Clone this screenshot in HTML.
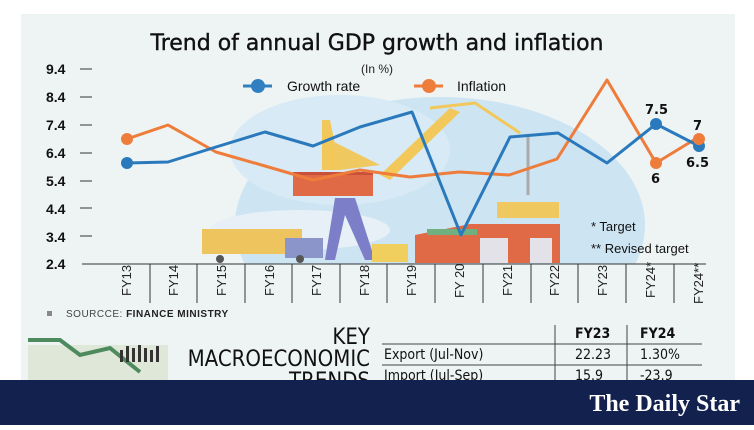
<!DOCTYPE html><html><head><meta charset="utf-8"><style>
body{margin:0;width:754px;height:425px;overflow:hidden;background:#fff;font-family:"Liberation Sans",sans-serif}
</style></head><body>
<svg width="754" height="425" viewBox="0 0 754 425" xmlns="http://www.w3.org/2000/svg" font-family="Liberation Sans, sans-serif">
<defs><clipPath id="c"><rect x="0" y="0" width="754" height="264"/></clipPath></defs>
<rect x="21" y="14" width="714" height="370" fill="#eef4f4"/>
<!-- globe -->
<g clip-path="url(#c)">
<ellipse cx="440" cy="225" rx="205" ry="128" fill="#cde4f2"/>
<ellipse cx="340" cy="150" rx="110" ry="55" fill="#d7eaf5"/>
<ellipse cx="300" cy="230" rx="90" ry="20" fill="#e6f0f6"/>
</g>
<!-- crane -->
<polygon points="322,120 330,120 340,170 322,170" fill="#f2c85a"/>
<polygon points="330,140 380,165 340,170" fill="#f0c860"/>
<polygon points="380,175 450,108 460,112 390,180" fill="#f2c85a"/>
<polyline points="430,108 475,103 520,133" fill="none" stroke="#f2c85a" stroke-width="3"/>
<rect x="293" y="174" width="80" height="22" fill="#e06a45"/>
<rect x="293" y="172" width="80" height="3" fill="#c9503a"/>
<polygon points="335,198 355,198 375,260 365,260 345,215 335,260 325,260" fill="#7c7ec8"/>
<rect x="497" y="202" width="62" height="16" fill="#f0c860"/>
<line x1="528" y1="135" x2="528" y2="195" stroke="#aaa" stroke-width="3"/>
<!-- truck -->
<rect x="202" y="229" width="100" height="25" fill="#edc45e"/>
<rect x="285" y="238" width="38" height="20" fill="#8b95c9"/>
<circle cx="220" cy="259" r="4" fill="#555"/><circle cx="300" cy="259" r="4" fill="#555"/>
<rect x="372" y="244" width="36" height="18" fill="#f0cf5e"/>
<!-- warehouse -->
<polygon points="415,235 470,224 560,224 560,263 415,263" fill="#e06a45"/>
<rect x="427" y="229" width="50" height="6" fill="#70b080"/>
<rect x="480" y="238" width="28" height="25" fill="#e2e2e8"/>
<rect x="530" y="238" width="22" height="25" fill="#e2e2e8"/>
<text x="377" y="50" font-size="22" text-anchor="middle" fill="#111" stroke="#111" stroke-width="0.4" font-family="DejaVu Sans, sans-serif">Trend of annual GDP growth and inflation</text>
<text x="377" y="73" font-size="12" text-anchor="middle" fill="#222">(In %)</text>
<line x1="243" y1="86" x2="272" y2="86" stroke="#2f7fc1" stroke-width="3"/><circle cx="258" cy="86" r="7" fill="#2f7fc1"/>
<text x="287" y="91" font-size="14" fill="#111">Growth rate</text>
<line x1="414" y1="86" x2="443" y2="86" stroke="#ee7d3b" stroke-width="3"/><circle cx="429" cy="86" r="7" fill="#ee7d3b"/>
<text x="457" y="91" font-size="14" fill="#111">Inflation</text>
<g font-size="14" font-weight="bold" fill="#111">
<text x="46" y="74">9.4</text><text x="46" y="102">8.4</text><text x="46" y="130">7.4</text><text x="46" y="158">6.4</text><text x="46" y="186">5.4</text><text x="46" y="214">4.4</text><text x="46" y="242">3.4</text><text x="46" y="269">2.4</text>
</g>
<g stroke="#333" stroke-width="1">
<line x1="80" y1="69" x2="92" y2="69"/><line x1="80" y1="97" x2="92" y2="97"/><line x1="80" y1="125" x2="92" y2="125"/><line x1="80" y1="153" x2="92" y2="153"/><line x1="80" y1="181" x2="92" y2="181"/><line x1="80" y1="208" x2="92" y2="208"/><line x1="80" y1="236" x2="92" y2="236"/>
<line x1="82" y1="264" x2="706" y2="264"/>
<line x1="150" y1="264" x2="150" y2="303"/><line x1="197" y1="264" x2="197" y2="303"/><line x1="245" y1="264" x2="245" y2="303"/><line x1="292" y1="264" x2="292" y2="303"/><line x1="340" y1="264" x2="340" y2="303"/><line x1="387" y1="264" x2="387" y2="303"/><line x1="435" y1="264" x2="435" y2="303"/><line x1="483" y1="264" x2="483" y2="303"/><line x1="531" y1="264" x2="531" y2="303"/><line x1="578" y1="264" x2="578" y2="303"/><line x1="626" y1="264" x2="626" y2="303"/><line x1="674" y1="264" x2="674" y2="303"/>
</g>
<g font-size="13" fill="#222">
<text transform="translate(131,296) rotate(-90)">FY13</text>
<text transform="translate(178,296) rotate(-90)">FY14</text>
<text transform="translate(226,296) rotate(-90)">FY15</text>
<text transform="translate(274,296) rotate(-90)">FY16</text>
<text transform="translate(321,296) rotate(-90)">FY17</text>
<text transform="translate(369,296) rotate(-90)">FY18</text>
<text transform="translate(416,296) rotate(-90)">FY19</text>
<text transform="translate(464,298) rotate(-90)">FY 20</text>
<text transform="translate(512,296) rotate(-90)">FY21</text>
<text transform="translate(559,296) rotate(-90)">FY22</text>
<text transform="translate(607,296) rotate(-90)">FY23</text>
<text transform="translate(655,298) rotate(-90)">FY24*</text>
<text transform="translate(703,304) rotate(-90)">FY24**</text>
</g>
<polyline fill="none" stroke="#ee7d3b" stroke-width="3" stroke-linejoin="round" points="127,139 168,125 216,152 265,166 313,180 360,170 410,177 459,172 509,175 557,159 607,80 656,163 697,138"/>
<polyline fill="none" stroke="#2a79bd" stroke-width="3" stroke-linejoin="round" points="127,163 168,162 216,147 265,132 313,146 360,127 412,112 461,235 510,137 558,133 607,163 656,124 697,145"/>
<circle cx="127" cy="139" r="6" fill="#ee7d3b"/><circle cx="127" cy="163" r="6" fill="#2a79bd"/>
<circle cx="656" cy="163" r="6" fill="#ee7d3b"/><circle cx="656" cy="124" r="6" fill="#2a79bd"/>
<circle cx="699" cy="146" r="6" fill="#2a79bd"/><circle cx="699" cy="139" r="6" fill="#ee7d3b"/>
<g font-size="13" font-weight="bold" fill="#111" font-family="DejaVu Sans, sans-serif">
<text x="645" y="114">7.5</text><text x="693" y="130">7</text><text x="651" y="183">6</text><text x="686" y="167">6.5</text>
</g>
<text x="591" y="231" font-size="13" fill="#111">* Target</text>
<text x="591" y="253" font-size="13" fill="#111">** Revised target</text>
<rect x="47" y="311" width="5" height="5" fill="#888"/>
<text x="66" y="317" font-size="10" fill="#444" letter-spacing="0.5">SOURCCE: <tspan font-weight="bold" fill="#222">FINANCE MINISTRY</tspan></text>
<!-- bottom illustration -->
<rect x="28" y="345" width="140" height="35" fill="#dfe8d8"/>
<polyline points="28,340 60,340 80,355 110,348 140,372" fill="none" stroke="#4d8a5e" stroke-width="4"/>
<g fill="#333"><rect x="120" y="350" width="3" height="12"/><rect x="126" y="346" width="3" height="16"/><rect x="132" y="348" width="3" height="14"/><rect x="138" y="345" width="3" height="17"/><rect x="144" y="348" width="3" height="14"/><rect x="150" y="350" width="3" height="12"/><rect x="156" y="346" width="3" height="16"/></g>
<g font-size="22" fill="#111" text-anchor="end" font-family="DejaVu Sans Condensed, DejaVu Sans, sans-serif">
<text x="370" y="344">KEY</text><text x="370" y="366">MACROECONOMIC</text><text x="370" y="388">TRENDS</text>
</g>
<g font-size="14" fill="#111" font-family="DejaVu Sans Condensed, DejaVu Sans, sans-serif">
<text x="575" y="338" font-weight="bold">FY23</text><text x="640" y="338" font-weight="bold">FY24</text>
<text x="384" y="359">Export (Jul-Nov)</text><text x="575" y="359">22.23</text><text x="640" y="359">1.30%</text>
<text x="384" y="380">Import (Jul-Sep)</text><text x="575" y="380">15.9</text><text x="640" y="380">-23.9</text>
</g>
<g stroke="#444" stroke-width="1"><line x1="382" y1="344" x2="702" y2="344"/><line x1="382" y1="365" x2="702" y2="365"/><line x1="555" y1="325" x2="555" y2="380"/><line x1="627" y1="325" x2="627" y2="380"/></g>
<rect x="0" y="380" width="754" height="45" fill="#13214f"/>
<text x="740" y="411" font-size="24" fill="#fff" text-anchor="end" font-family="Liberation Serif, serif" font-weight="bold">The Daily Star</text>
</svg>
</body></html>
